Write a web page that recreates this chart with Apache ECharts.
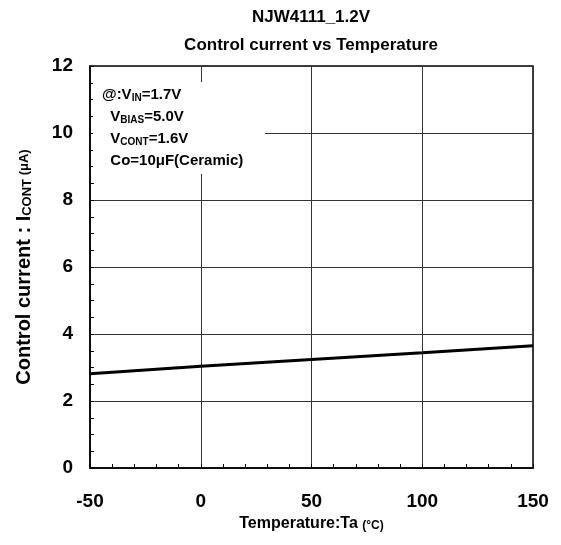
<!DOCTYPE html>
<html>
<head>
<meta charset="utf-8">
<script src="https://cdn.jsdelivr.net/npm/echarts@6/dist/echarts.min.js"></script>
<style>
html, body { margin: 0; padding: 0; background: #fff; }
#chart { width: 561px; height: 545px; }
</style>
</head>
<body>
<div id="chart"></div>
<script>
// values
var temps = [-50, 0, 50, 100, 150];
var icont = [2.81, 3.04, 3.24, 3.44, 3.65];
var xTicks = [-50, 0, 50, 100, 150];
var yTicks = [0, 2, 4, 6, 8, 10, 12];

var font = 'Liberation Sans, Arial, sans-serif';
var lineData = temps.map(function (t, i) { return [t, icont[i]]; });

var chart = echarts.init(document.getElementById('chart'));
var option = {
  animation: false,
  textStyle: { fontFamily: font },
  title: {
    text: 'NJW4111_1.2V\nControl current vs Temperature',
    left: 311,
    top: 3,
    padding: 0,
    textAlign: 'center',
    textStyle: { fontFamily: font, fontSize: 17, fontWeight: 'bold', color: '#000', lineHeight: 28 }
  },
  grid: {
    left: 90, right: 28, top: 66, bottom: 77,
    show: true, borderColor: '#000', borderWidth: 1.5
  },
  xAxis: {
    type: 'value',
    min: xTicks[0], max: xTicks[xTicks.length - 1], interval: 50,
    axisLine: { onZero: false, lineStyle: { color: '#000', width: 1.5 } },
    axisTick: { inside: true, length: 4, lineStyle: { color: '#000' } },
    minorTick: { show: true, splitNumber: 5, length: 4, lineStyle: { color: '#000' } },
    splitLine: { show: true, lineStyle: { color: '#333', width: 1 } },
    axisLabel: { fontSize: 19, fontWeight: 'bold', color: '#000', margin: 24, fontFamily: font },
    name: '{a|Temperature:Ta }{b|(°C)}',
    nameLocation: 'middle',
    nameGap: 48,
    nameTextStyle: {
      rich: {
        a: { fontSize: 16, fontWeight: 'bold', color: '#000', fontFamily: font },
        b: { fontSize: 12, fontWeight: 'bold', color: '#000', fontFamily: font, padding: [3, 0, 0, 0] }
      }
    }
  },
  yAxis: {
    type: 'value',
    min: yTicks[0], max: yTicks[yTicks.length - 1], interval: 2,
    axisLine: { show: true, onZero: false, lineStyle: { color: '#000', width: 1.5 } },
    axisTick: { show: true, inside: true, length: 4, lineStyle: { color: '#000' } },
    minorTick: { show: true, splitNumber: 4, length: 4, lineStyle: { color: '#000' } },
    splitLine: { show: true, lineStyle: { color: '#333', width: 1 } },
    axisLabel: { fontSize: 19, fontWeight: 'bold', color: '#000', margin: 17, fontFamily: font },
    name: '{a|Control current : I}{s|CONT}{b| (μA)}',
    nameLocation: 'middle',
    nameGap: 56,
    nameTextStyle: {
      rich: {
        a: { fontSize: 20, fontWeight: 'bold', color: '#000', fontFamily: font },
        s: { fontSize: 13, fontWeight: 'bold', color: '#000', fontFamily: font, padding: [7, 0, 0, 0] },
        b: { fontSize: 13, fontWeight: 'bold', color: '#000', fontFamily: font }
      }
    }
  },
  graphic: [
    {
      type: 'rect', left: 93, top: 82, z: 10,
      shape: { width: 172, height: 92 },
      style: { fill: '#fff' }
    },
    {
      type: 'text', left: 102, top: 86, z: 11,
      style: {
        text: '{a|@:V}{s|IN}{a|=1.7V}\n{a|  V}{s|BIAS}{a|=5.0V}\n{a|  V}{s|CONT}{a|=1.6V}\n{a|  Co=10μF(Ceramic)}',
        rich: {
          a: { fontSize: 15, fontWeight: 'bold', fill: '#000', fontFamily: font, lineHeight: 22 },
          s: { fontSize: 10, fontWeight: 'bold', fill: '#000', fontFamily: font, padding: [7, 0, 0, 0], lineHeight: 22 }
        }
      }
    }
  ],
  series: [{
    type: 'line',
    data: lineData,
    showSymbol: false,
    lineStyle: { color: '#000', width: 3 },
    z: 5
  }]
};
chart.setOption(option);
</script>
</body>
</html>
